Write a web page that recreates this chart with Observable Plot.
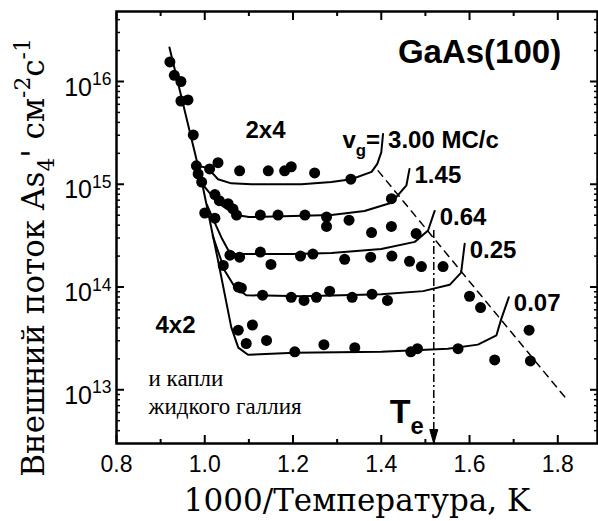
<!DOCTYPE html>
<html><head><meta charset="utf-8">
<script src="https://cdn.jsdelivr.net/npm/d3@7"></script>
<script src="https://cdn.jsdelivr.net/npm/@observablehq/plot@0.6"></script>
<style>body{margin:0;background:#fff}</style>
</head><body><div id="chart"></div>
<script>
// ---- data ----
const velocityLabels = ["3.00 МС/с", "1.45", "0.64", "0.25", "0.07"];
const curveX = [
  [0.985,1.004,1.019,1.030,1.060,1.106,1.219,1.287,1.332,1.378,1.391,1.400,1.404],
  [0.995,1.010,1.030,1.050,1.072,1.100,1.200,1.287,1.362,1.423,1.457,1.464],
  [1.005,1.020,1.038,1.053,1.070,1.085,1.200,1.287,1.400,1.476,1.506,1.521],
  [1.018,1.030,1.045,1.068,1.094,1.220,1.400,1.495,1.555,1.581,1.589],
  [0.920,0.9925,1.030,1.060,1.076,1.098,1.204,1.400,1.551,1.619,1.661,1.672,1.689]
];
const curveY = [
  [1.51e15,1.45e15,1.26e15,1.12e15,1.02e15,1.0e15,1.0e15,1.05e15,1.12e15,1.32e15,1.58e15,2.04e15,3.09e15],
  [1.0e15,8.32e14,6.61e14,5.75e14,5.01e14,4.79e14,4.90e14,5.01e14,5.50e14,6.61e14,9.77e14,1.41e15],
  [6.31e14,4.47e14,3.02e14,2.29e14,2.09e14,2.09e14,2.09e14,2.14e14,2.34e14,2.75e14,3.55e14,5.50e14],
  [3.16e14,2.24e14,1.45e14,1.0e14,8.32e13,8.13e13,8.51e13,9.12e13,1.05e14,1.38e14,2.63e14],
  [2.14e16,1.10e15,1.82e14,4.07e13,2.57e13,2.19e13,2.29e13,2.34e13,2.51e13,2.75e13,3.39e13,4.90e13,7.94e13]
];
const dotGroupX = [
  [0.921,0.931,0.946,0.946,0.962,0.974,0.981,0.985,0.993,1.011,1.030,1.023],
  [1.079,1.144,1.181,1.196,1.249,1.331],
  [1.033,1.053,1.064,1.072,1.126,1.166,1.227,1.276,1.276,1.327,1.378,1.423,1.423,1.479,1.000,1.023],
  [1.042,1.057,1.079,1.126,1.150,1.217,1.245,1.317,1.376,1.424,1.464,1.491,1.540],
  [1.076,1.083,1.131,1.196,1.225,1.253,1.283,1.334,1.379,1.414,1.600,1.625],
  [1.076,1.108,1.094,1.140,1.204,1.270,1.340,1.467,1.482,1.574,1.657,1.735,1.738]
];
const dotGroupY = [
  [1.55e16,1.15e16,1.0e16,6.46e15,6.61e15,3.02e15,1.51e15,1.26e15,1.05e15,1.41e15,1.62e15,7.94e14],
  [1.35e15,1.35e15,1.35e15,1.48e15,1.29e15,1.12e15],
  [6.92e14,6.46e14,5.75e14,5.01e14,5.01e14,5.01e14,5.01e14,4.79e14,3.89e14,4.47e14,3.39e14,3.89e14,7.24e14,3.31e14,5.25e14,4.68e14],
  [1.62e14,2.04e14,1.95e14,2.19e14,1.66e14,2.0e14,2.09e14,1.86e14,1.95e14,2.0e14,1.78e14,1.58e14,1.58e14],
  [1.0e14,9.77e13,8.32e13,7.94e13,7.41e13,7.94e13,9.12e13,7.94e13,8.51e13,7.41e13,8.13e13,6.31e13],
  [3.80e13,4.27e13,2.82e13,3.02e13,2.34e13,2.75e13,2.57e13,2.34e13,2.51e13,2.51e13,1.95e13,3.80e13,1.91e13]
];
const dashX = [1.393, 1.816];
const dashY = [1.35e15, 8.5e12];
const teX = 1.519, teTopY = 3.55e14;
const xTickValues = [0.8, 1.0, 1.2, 1.4, 1.6, 1.8];
const xMinorValues = [0.9, 1.1, 1.3, 1.5, 1.7];
const yTickValues = [1e13, 1e14, 1e15, 1e16];
const xDomain = [0.8, 1.89];
const yDomain = [3e12, 4.8e16];
const xTitle = "1000/Температура, K";
const yTitle = "Внешний поток As_{4}' см^{-2}с^{-1}";
const annotations = [
  {x: 1.6226, y: 1.5e16, text: "GaAs(100)", size: 33},
  {x: 1.1376, y: 2.85e15, text: "2x4", size: 24},
  {x: 0.9337, y: 3.54e13, text: "4x2", size: 24}
];
const noteLines = [
  {x: 0.8725, y: 1.1e13, text: "и капли"},
  {x: 0.8725, y: 5.75e12, text: "жидкого галлия"}
];

// ---- tables ----
const curves = curveX.flatMap((xs, i) => xs.map((x, j) => ({x, y: curveY[i][j], c: i})));
const ends = curveX.map((xs, i) => ({x: xs[xs.length - 1], y: curveY[i][curveY[i].length - 1], label: velocityLabels[i]}));
const dots = dotGroupX.flatMap((xs, i) => xs.map((x, j) => ({x, y: dotGroupY[i][j]})));
const dash = dashX.map((x, i) => ({x, y: dashY[i]}));
const yMinor = [];
for (let e = 12; e <= 16; e++) for (let k = 2; k <= 9; k++) {
  const v = k * Math.pow(10, e);
  if (v > yDomain[0] && v < yDomain[1]) yMinor.push(v);
}
const W = 598, H = 521, mL = 116, mR = 1, mT = 11, mB = 78;
const bold = "Liberation Sans";
const tickColor = "black";
const noLabel = () => "";
// inward ticks: axis ticks shifted back inside the frame by their own length
const inwardTicks = (values, len, sw) => [
  Plot.axisX(values, {anchor: "bottom", tickSize: len, dy: -len, tickFormat: noLabel, label: null, strokeWidth: sw, stroke: tickColor}),
  Plot.axisX(values, {anchor: "top", tickSize: len, dy: len, tickFormat: noLabel, label: null, strokeWidth: sw, stroke: tickColor})
];
const inwardTicksY = (values, len, sw) => [
  Plot.axisY(values, {anchor: "left", tickSize: len, dx: len, tickFormat: noLabel, label: null, strokeWidth: sw, stroke: tickColor}),
  Plot.axisY(values, {anchor: "right", tickSize: len, dx: -len, tickFormat: noLabel, label: null, strokeWidth: sw, stroke: tickColor})
];
// downward arrowhead whose tip sits on the anchor point
const arrowHead = {draw(ctx, size) { ctx.moveTo(-4, -14); ctx.lineTo(4, -14); ctx.lineTo(0, 0); ctx.closePath(); }};

const plot = Plot.plot({
  width: W, height: H,
  marginLeft: mL, marginRight: mR, marginTop: mT, marginBottom: mB,
  style: {fontFamily: "Liberation Sans, Arial, sans-serif", background: "white", color: "black"},
  x: {domain: xDomain},
  y: {type: "log", domain: yDomain},
  marks: [
    Plot.frame({strokeWidth: 2.5, fill: "none", stroke: "black"}),
    ...inwardTicks(xTickValues, 8, 2),
    ...inwardTicks(xMinorValues, 4, 2),
    ...inwardTicksY(yTickValues, 8, 2),
    ...inwardTicksY(yMinor, 4, 1.5),
    Plot.axisX(xTickValues, {tickSize: 0, tickPadding: 12, fontSize: 23, label: null, tickFormat: d => d.toFixed(1)}),
    Plot.axisY(yTickValues, {tickSize: 0, tickPadding: 5, fontSize: 25, dy: 6, label: null,
      tickFormat: d => "10^{" + Math.round(Math.log10(d)) + "}"}),
    // data
    Plot.line(dash, {x: "x", y: "y", strokeWidth: 1.5, strokeDasharray: "7,6"}),
    Plot.ruleX([teX], {y1: teTopY, y2: yDomain[0], strokeWidth: 1.5, strokeDasharray: "8,3,2,3"}),
    Plot.dot([{x: teX, y: yDomain[0]}], {x: "x", y: "y", symbol: arrowHead, fill: "black", stroke: "black", strokeWidth: 1}),
    Plot.line(curves, {x: "x", y: "y", z: "c", strokeWidth: 2, curve: "linear"}),
    Plot.dot(dots, {x: "x", y: "y", r: 5.5, fill: "black", stroke: null}),
    // labels
    Plot.text(ends, {x: "x", y: "y", text: "label", textAnchor: "start", lineAnchor: "bottom",
      dx: 5, dy: 14, fontSize: 24, fontWeight: "bold", fontFamily: bold}),
    Plot.text([ends[0]], {x: "x", y: "y", text: () => "v_{g}=", textAnchor: "end", lineAnchor: "bottom",
      dx: -3, dy: 14, fontSize: 24, fontWeight: "bold", fontFamily: bold}),
    Plot.text(annotations, {x: "x", y: "y", text: "text", textAnchor: "middle", lineAnchor: "bottom",
      fontSize: d => d.size, fontWeight: "bold", fontFamily: bold}),
    Plot.text(noteLines, {x: "x", y: "y", text: "text", textAnchor: "start", lineAnchor: "bottom",
      fontSize: 23, fontFamily: "Liberation Serif, serif"}),
    Plot.text([{x: teX, y: 4.8e12}], {x: "x", y: "y", text: () => "T_{e}", textAnchor: "end", lineAnchor: "bottom",
      dx: -10, fontSize: 34, fontWeight: "bold", fontFamily: bold}),
    Plot.text([xTitle], {frameAnchor: "bottom", textAnchor: "middle", lineAnchor: "bottom", dy: 67, fontSize: 31,
      fontFamily: "DejaVu Serif, serif"}),
    Plot.text([yTitle], {frameAnchor: "left", textAnchor: "middle", rotate: -90, lineAnchor: "bottom", dx: -73, dy: 30,
      fontSize: 31, fontFamily: "DejaVu Serif, serif"})
  ]
});
document.getElementById("chart").appendChild(plot);

// turn _{..} and ^{..} markers into sub/superscript tspans
function richText(root) {
  root.querySelectorAll("text").forEach(el => {
    const s = el.textContent;
    if (!/[_^]\{/.test(s)) return;
    const fs = parseFloat(getComputedStyle(el).fontSize) || 16;
    const parts = [];
    const re = /([_^])\{([^}]*)\}/g;
    let last = 0, m;
    while ((m = re.exec(s))) {
      if (m.index > last) parts.push({t: s.slice(last, m.index), k: ""});
      parts.push({t: m[2], k: m[1]});
      last = re.lastIndex;
    }
    if (last < s.length) parts.push({t: s.slice(last), k: ""});
    el.textContent = "";
    let cur = 0;
    for (const p of parts) {
      const off = p.k === "_" ? 0.33 * fs : p.k === "^" ? -0.42 * fs : 0;
      const ts = document.createElementNS("http://www.w3.org/2000/svg", "tspan");
      ts.setAttribute("dy", (off - cur).toFixed(2));
      if (p.k) ts.setAttribute("font-size", (0.7 * fs).toFixed(1));
      ts.textContent = p.t;
      el.appendChild(ts);
      cur = off;
    }
  });
}
richText(plot);
</script>
</body></html>
